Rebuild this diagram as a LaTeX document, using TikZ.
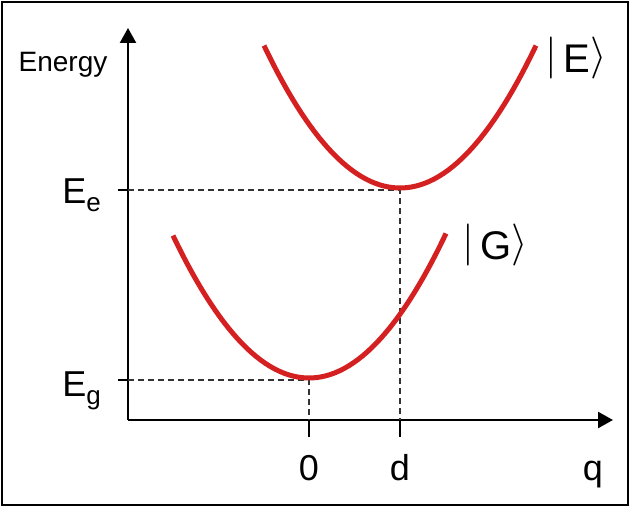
\documentclass[tikz,border=0pt]{standalone}
\usepackage{graphicx}
\usepackage{fontspec}
\setmainfont{Liberation Sans}
\usetikzlibrary{arrows.meta}
\definecolor{curvered}{RGB}{212,32,32}
\newcommand{\sublabel}[2]{#1\raisebox{-8pt}{\fontsize{26}{26}\selectfont #2}}
\newcommand{\ketpart}[1]{\raisebox{4pt}{\scalebox{4.2}{\fontsize{10}{12}\selectfont$#1$}}}
\newcommand{\ketlabel}[1]{\ketpart{|}\,#1\ketpart{\rangle}}

\begin{document}
\begin{tikzpicture}[
    x=1pt, y=-1pt,
    axis/.style={line width=2.4pt, -{Triangle[length=15pt, width=16pt]}},
    tick/.style={line width=2.4pt},
    guide/.style={dashed, dash pattern=on 6pt off 4pt, line width=1.2pt, black!80},
    curve/.style={curvered, line width=5pt},
    big/.style={font=\fontsize{36}{38}\selectfont, inner sep=0pt},
    ket/.style={font=\fontsize{40}{44}\selectfont, inner sep=0pt},
  ]
  \useasboundingbox (0,0) rectangle (631,508);
  \draw[line width=2.5pt] (2,2) rectangle (628,505);
  % axes
  \coordinate (origin) at (128,420);
  \coordinate (ytip) at (128,28);
  \coordinate (xtip) at (613,420);
  \draw[axis] (origin) -- (ytip);
  \draw[axis] (origin) -- (xtip);
  % levels and positions
  \coordinate (gmin) at (309,380);
  \coordinate (emin) at (400,190);
  \coordinate (gaxis) at (128,380);
  \coordinate (eaxis) at (128,190);
  \coordinate (gfoot) at (309,420);
  \coordinate (efoot) at (400,420);
  \draw[guide] (gaxis) -- (gmin) -- (gfoot);
  \draw[guide] (eaxis) -- (emin) -- (efoot);
  \foreach \c in {gaxis, eaxis}
    \draw[tick] (\c) -- ++(-10,0);
  \foreach \c in {gfoot, efoot}
    \draw[tick] (\c) -- ++(0,17);
  % potential curves
  \draw[curve] plot[domain=-136:137, samples=60] ({309+\x},{378-0.77*(\x/10)*(\x/10)});
  \draw[curve] plot[domain=-136:136, samples=60] ({400+\x},{188-0.77*(\x/10)*(\x/10)});
  % labels
  \node[font=\fontsize{28}{30}\selectfont, inner sep=0pt, anchor=base] (energy) at (63,72) {Energy};
  \node[big, anchor=base east] (eglabel) at (101,396) {\sublabel{E}{g}};
  \node[big, anchor=base east] (eelabel) at (101,203) {\sublabel{E}{e}};
  \node[big, anchor=base] (zero) at (309,480) {0};
  \node[big, anchor=base] (dlabel) at (400,480) {d};
  \node[big, anchor=base] (qlabel) at (593,480) {q};
  \node[ket, anchor=base west] (eket) at (545,73) {\ketlabel{E}};
  \node[ket, anchor=base west] (gket) at (462,259) {\ketlabel{G}};
\end{tikzpicture}
\end{document}
